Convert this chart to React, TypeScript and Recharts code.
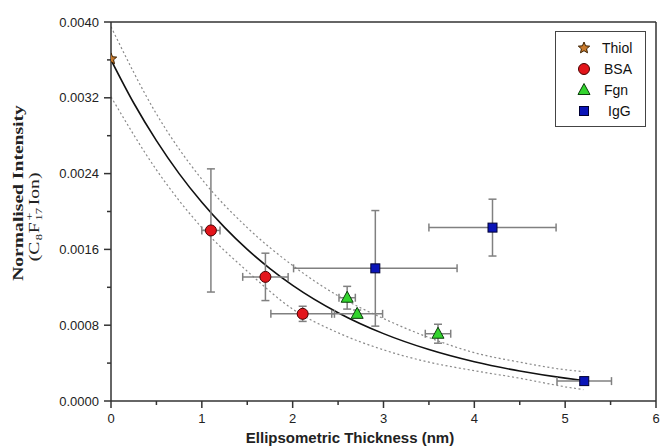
import React from "react";
import {
  ComposedChart,
  Line,
  Scatter,
  XAxis,
  YAxis,
  ErrorBar,
  ReferenceLine,
  Legend,
} from "recharts";

// exponential fit
const fitX = [0, 0.25, 0.5, 0.75, 1, 1.25, 1.5, 1.75, 2, 2.5, 3, 3.5, 4, 4.5, 5, 5.2];
const fitY = [
  0.0036, 0.003145, 0.002748, 0.0024, 0.002097, 0.001832, 0.0016, 0.001398, 0.001221,
  0.000932, 0.000711, 0.000543, 0.000414, 0.000316, 0.000241, 0.000217,
];

// confidence band (dotted)
const bandX = [0, 0.5, 1, 1.5, 2, 2.5, 3, 3.5, 4, 4.5, 5, 5.2];
const upperY = [0.00395, 0.00303, 0.00234, 0.00183, 0.00143, 0.00111, 0.00087, 0.00067, 0.00051, 0.00041, 0.00033, 0.00031];
const lowerY = [0.00321, 0.00244, 0.00183, 0.00137, 0.00097, 0.00072, 0.00054, 0.00041, 0.00032, 0.00024, 0.00015, 0.00012];

// measured points
const thiolX = [0];
const thiolY = [0.00361];

const bsaX = [1.1, 1.7, 2.11];
const bsaY = [0.0018, 0.00131, 0.00092];
const bsaErrX = [0.1, 0.25, 0.35];
const bsaErrY = [0.00065, 0.00025, 0.00008];

const fgnX = [2.6, 2.71, 3.6];
const fgnY = [0.00109, 0.00092, 0.00071];
const fgnErrX = [0.09, 0.28, 0.14];
const fgnErrY = [0.00012, 0.00004, 0.0001];

const iggX = [2.91, 4.2, 5.21];
const iggY = [0.0014, 0.00183, 0.00021];
const iggErrX = [0.9, 0.7, 0.3];
const iggErrY = [0.00061, 0.0003, 0.00002];

const xTicks = [0, 0.5, 1, 1.5, 2, 2.5, 3, 3.5, 4, 4.5, 5, 5.5, 6];
const yTicks = [0, 0.0004, 0.0008, 0.0012, 0.0016, 0.002, 0.0024, 0.0028, 0.0032, 0.0036, 0.004];

const toPts = (xs: number[], ys: number[], ex?: number[], ey?: number[]) =>
  xs.map((x, i) => ({ x, y: ys[i], ex: ex ? ex[i] : 0, ey: ey ? ey[i] : 0 }));

const fitData = toPts(fitX, fitY);
const upperData = toPts(bandX, upperY);
const lowerData = toPts(bandX, lowerY);
const thiolData = toPts(thiolX, thiolY);
const bsaData = toPts(bsaX, bsaY, bsaErrX, bsaErrY);
const fgnData = toPts(fgnX, fgnY, fgnErrX, fgnErrY);
const iggData = toPts(iggX, iggY, iggErrX, iggErrY);

const SANS = "'Liberation Sans', Arial, sans-serif";
const SERIF = "'Liberation Serif', 'Times New Roman', serif";
const AXIS = "#333";
const ERR = "#808080";

function starPath(cx: number, cy: number, r: number) {
  const pts: string[] = [];
  for (let i = 0; i < 10; i++) {
    const rad = i % 2 === 0 ? r : r * 0.45;
    const a = -Math.PI / 2 + (i * Math.PI) / 5;
    pts.push(`${cx + rad * Math.cos(a)},${cy + rad * Math.sin(a)}`);
  }
  return `M${pts.join("L")}Z`;
}

const Star = ({ cx, cy }: any) => (
  <path d={starPath(cx, cy, 6)} fill="#c97a2c" stroke="#3b2000" strokeWidth={1} />
);
const Dot = ({ cx, cy }: any) => (
  <circle cx={cx} cy={cy} r={5.5} fill="#e3151b" stroke="#4a0000" strokeWidth={1} />
);
const Tri = ({ cx, cy }: any) => (
  <path
    d={`M${cx},${cy - 6.5}L${cx + 6},${cy + 4.5}L${cx - 6},${cy + 4.5}Z`}
    fill="#33d42e"
    stroke="#0b3d0b"
    strokeWidth={1}
  />
);
const Sq = ({ cx, cy }: any) => (
  <rect x={cx - 4.5} y={cy - 4.5} width={9} height={9} fill="#0a14b8" stroke="#000033" strokeWidth={1} />
);

function XTick({ x, y, payload }: any) {
  const v = payload.value;
  const major = Math.abs(v - Math.round(v)) < 1e-6;
  return (
    <g>
      <line x1={x} x2={x} y1={y} y2={y + (major ? 7 : 4)} stroke={AXIS} strokeWidth={1.5} />
      {major && (
        <text x={x} y={y + 22} textAnchor="middle" fontSize={13} fill="#222" fontFamily={SANS}>
          {v}
        </text>
      )}
    </g>
  );
}

function YTick({ x, y, payload }: any) {
  const v = payload.value;
  const major = Math.round(v / 0.0004) % 2 === 0;
  return (
    <g>
      <line x1={x} x2={x - (major ? 7 : 4)} y1={y} y2={y} stroke={AXIS} strokeWidth={1.5} />
      {major && (
        <text x={x - 12} y={y} dy="0.35em" textAnchor="end" fontSize={13} fill="#222" fontFamily={SANS}>
          {v.toFixed(4)}
        </text>
      )}
    </g>
  );
}

const renderXLabel = () => (
  <text x={350} y={443} textAnchor="middle" fontSize={15} fontWeight="bold" fill="#222" fontFamily={SANS}>
    Ellipsometric Thickness (nm)
  </text>
);

// second line is laid out piece by piece so the stacked + / 17 sit right
const renderYLabel = () => (
  <g fill="#222" fontFamily={SERIF}>
    <g transform="translate(23,193) rotate(-90) scale(1.4,1)">
      <text textAnchor="middle" fontSize={14} fontWeight="bold">
        Normalised Intensity
      </text>
    </g>
    <g transform="translate(39,215) rotate(-90) scale(1.4,1)">
      <text x={-33} fontSize={14}>(C</text>
      <text x={-18} y={3} fontSize={9}>8</text>
      <text x={-13} fontSize={14}>F</text>
      <text x={-4} y={-6} fontSize={10}>+</text>
      <text x={-4} y={3} fontSize={9}>17</text>
      <text x={7} fontSize={14}>Ion)</text>
    </g>
  </g>
);

const legendItems = [
  { name: "Thiol", Icon: Star, pad: 0 },
  { name: "BSA", Icon: Dot, pad: 2 },
  { name: "Fgn", Icon: Tri, pad: 2 },
  { name: "IgG", Icon: Sq, pad: 6 },
];

const renderLegend = () => (
  <div
    style={{
      width: 91,
      height: 96,
      boxSizing: "border-box",
      border: "1.5px solid #444",
      background: "#fff",
      paddingTop: 5,
      fontFamily: SANS,
      fontSize: 14,
      color: "#111",
    }}
  >
    {legendItems.map(({ name, Icon, pad }) => (
      <div key={name} style={{ display: "flex", alignItems: "center", height: 21 }}>
        <svg width={16} height={16} style={{ marginLeft: 20 }}>
          <Icon cx={8} cy={8} />
        </svg>
        <span style={{ marginLeft: 10 + pad }}>{name}</span>
      </div>
    ))}
  </div>
);

export default function App() {
  return (
    <div style={{ position: "absolute", left: 0, top: 0, background: "#fff" }}>
      <ComposedChart width={660} height={448} margin={{ top: 22, right: 4, bottom: 0, left: 0 }}>
        <XAxis
          dataKey="x"
          type="number"
          domain={[0, 6]}
          allowDataOverflow
          ticks={xTicks}
          interval={0}
          height={47}
          tickSize={0}
          tickMargin={0}
          tickLine={false}
          tick={<XTick />}
          axisLine={{ stroke: AXIS, strokeWidth: 1.5 }}
          label={renderXLabel}
        />
        <YAxis
          dataKey="y"
          type="number"
          domain={[0, 0.004]}
          allowDataOverflow
          ticks={yTicks}
          interval={0}
          width={111}
          tickSize={0}
          tickMargin={0}
          tickLine={false}
          tick={<YTick />}
          axisLine={{ stroke: AXIS, strokeWidth: 1.5 }}
          label={renderYLabel}
        />
        <ReferenceLine y={0.004} stroke={AXIS} strokeWidth={1.5} />
        <ReferenceLine x={6} stroke={AXIS} strokeWidth={1.5} />
        <Legend
          layout="vertical"
          align="center"
          verticalAlign="middle"
          wrapperStyle={{ position: "absolute", left: 555, top: 31, width: 91, height: 96 }}
          content={renderLegend}
        />
        <Line data={upperData} dataKey="y" type="monotone" stroke="#8a8a8a" strokeWidth={1.2} strokeDasharray="2 2.5" dot={false} isAnimationActive={false} legendType="none" />
        <Line data={lowerData} dataKey="y" type="monotone" stroke="#8a8a8a" strokeWidth={1.2} strokeDasharray="2 2.5" dot={false} isAnimationActive={false} legendType="none" />
        <Line data={fitData} dataKey="y" type="monotone" stroke="#111" strokeWidth={1.6} dot={false} isAnimationActive={false} legendType="none" />
        <Scatter name="BSA" data={bsaData} dataKey="y" shape={Dot} isAnimationActive={false}>
          <ErrorBar dataKey="ex" direction="x" stroke={ERR} strokeWidth={1.5} width={4} />
          <ErrorBar dataKey="ey" direction="y" stroke={ERR} strokeWidth={1.5} width={4} />
        </Scatter>
        <Scatter name="IgG" data={iggData} dataKey="y" shape={Sq} isAnimationActive={false}>
          <ErrorBar dataKey="ex" direction="x" stroke={ERR} strokeWidth={1.5} width={4} />
          <ErrorBar dataKey="ey" direction="y" stroke={ERR} strokeWidth={1.5} width={4} />
        </Scatter>
        <Scatter name="Fgn" data={fgnData} dataKey="y" shape={Tri} isAnimationActive={false}>
          <ErrorBar dataKey="ex" direction="x" stroke={ERR} strokeWidth={1.5} width={4} />
          <ErrorBar dataKey="ey" direction="y" stroke={ERR} strokeWidth={1.5} width={4} />
        </Scatter>
        <Scatter name="Thiol" data={thiolData} dataKey="y" shape={Star} isAnimationActive={false} />
      </ComposedChart>
    </div>
  );
}
